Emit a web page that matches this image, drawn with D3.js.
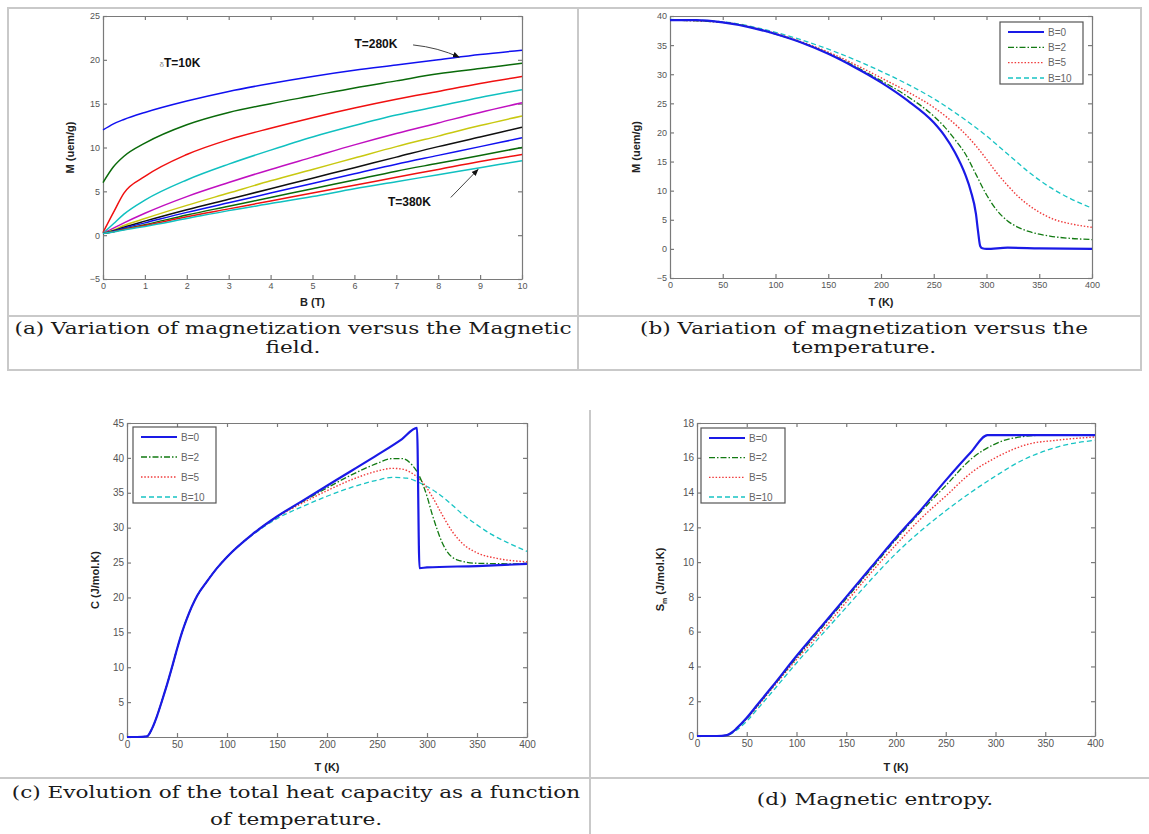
<!DOCTYPE html>
<html>
<head>
<meta charset="utf-8">
<script src="https://cdn.jsdelivr.net/npm/d3@7"></script>
<style>
  body { margin: 0; background: #fff; }
  text { font-family: "Liberation Sans", Arial, sans-serif; }
</style>
</head>
<body>
<script>
// ---------- data ----------
// (a) magnetization vs field, one curve per temperature (280K .. 380K)
const fieldB = [0, 0.25, 0.5, 1, 2, 3, 4, 5, 6, 7, 8, 9, 10];
const m280 = [12.0, 12.7, 13.2, 14.0, 15.3, 16.4, 17.3, 18.1, 18.8, 19.4, 20.0, 20.6, 21.1];
const m290 = [6.0, 7.8, 9.0, 10.5, 12.6, 14.0, 15.0, 15.9, 16.8, 17.6, 18.4, 19.0, 19.6];
const m300 = [0.3, 2.6, 4.8, 6.7, 9.2, 10.9, 12.2, 13.4, 14.5, 15.5, 16.4, 17.3, 18.1];
const m310 = [0.2, 1.3, 2.4, 4.0, 6.3, 8.1, 9.7, 11.2, 12.5, 13.7, 14.7, 15.7, 16.6];
const m320 = [0.2, 0.8, 1.4, 2.5, 4.4, 6.0, 7.5, 8.9, 10.3, 11.6, 12.8, 14.0, 15.1];
const m330 = [0.2, 0.6, 1.1, 1.9, 3.4, 4.8, 6.2, 7.5, 8.8, 10.1, 11.3, 12.5, 13.6];
const m340 = [0.2, 0.5, 0.9, 1.6, 2.9, 4.1, 5.3, 6.5, 7.7, 8.9, 10.1, 11.2, 12.3];
const m350 = [0.2, 0.45, 0.8, 1.4, 2.6, 3.7, 4.8, 5.9, 7.0, 8.1, 9.1, 10.1, 11.1];
const m360 = [0.2, 0.4, 0.7, 1.2, 2.3, 3.3, 4.3, 5.3, 6.3, 7.3, 8.2, 9.1, 10.0];
const m370 = [0.2, 0.4, 0.65, 1.1, 2.1, 3.0, 3.9, 4.8, 5.7, 6.6, 7.5, 8.4, 9.2];
const m380 = [0.2, 0.35, 0.6, 1.0, 1.9, 2.8, 3.6, 4.4, 5.3, 6.1, 6.9, 7.7, 8.5];
const curvesA = [m280, m290, m300, m310, m320, m330, m340, m350, m360, m370, m380];
const colorsA = ["#1010f0", "#0a6a0a", "#f01010", "#10c0c0", "#c010c0", "#c8c810", "#101010",
                 "#1010f0", "#0a6a0a", "#f01010", "#10c0c0"];

// (b) magnetization vs temperature, [T, M]
const mT_B0 = [[0,39.3],[25,39.3],[50,38.9],[75,38.1],[100,36.9],[125,35.4],[150,33.5],[175,31.2],
  [200,28.6],[225,25.5],[250,21.7],[260,19.5],[270,16.6],[280,12.7],[285,10.0],[290,6.0],[292,3.0],
  [294,0.5],[296,0.1],[300,0.0],[320,0.2],[350,0.1],[400,0.0]];
const mT_B2 = [[0,39.3],[50,38.9],[100,36.9],[150,33.6],[200,28.9],[225,26.2],[250,22.8],[260,21.0],
  [270,18.8],[280,16.3],[290,12.8],[300,9.3],[310,6.6],[320,4.8],[330,3.7],[340,3.0],[360,2.2],
  [380,1.8],[400,1.6]];
const mT_B5 = [[0,39.3],[50,38.9],[100,37.0],[150,33.8],[200,29.4],[225,27.0],[250,24.3],[275,20.6],
  [290,17.7],[300,15.4],[310,13.0],[320,10.9],[330,9.0],[340,7.5],[350,6.3],[365,5.0],[380,4.3],[400,3.7]];
const mT_B10 = [[0,39.4],[50,39.0],[100,37.2],[150,34.3],[200,30.5],[225,28.3],[250,25.8],[275,22.8],
  [300,19.4],[320,16.3],[340,13.2],[360,10.6],[380,8.6],[400,7.0]];

// (c) total heat capacity, [T, C]
const cT_B0 = [[0,0],[10,0],[20,0.1],[25,1.2],[30,3.0],[35,5.2],[40,7.5],[45,10.0],[50,12.6],[55,15.0],
  [60,17.0],[70,20.2],[80,22.3],[90,24.2],[100,25.8],[125,29.0],[150,31.6],[175,33.8],[200,36.0],
  [225,38.2],[250,40.4],[275,42.7],[290,44.3],[292.5,24.2],[300,24.3],[350,24.5],[400,24.8]];
const cT_B2 = [[0,0],[10,0],[20,0.1],[25,1.2],[30,3.0],[35,5.2],[40,7.5],[45,10.0],[50,12.6],[55,15.0],
  [60,17.0],[70,20.2],[80,22.3],[90,24.2],[100,25.8],[125,29.0],[150,31.6],[175,33.7],[200,35.7],
  [225,37.6],[250,39.2],[265,39.9],[275,39.9],[285,39.0],[292,37.5],[300,34.5],[305,32.0],[310,29.8],
  [315,27.9],[320,26.6],[330,25.4],[350,24.9],[400,24.8]];
const cT_B5 = [[0,0],[10,0],[20,0.1],[25,1.2],[30,3.0],[35,5.2],[40,7.5],[45,10.0],[50,12.6],[55,15.0],
  [60,17.0],[70,20.2],[80,22.3],[90,24.2],[100,25.8],[125,29.0],[150,31.5],[175,33.5],[200,35.3],
  [225,36.9],[250,38.1],[265,38.5],[275,38.4],[285,37.8],[295,36.6],[305,34.5],[315,31.9],[325,29.5],
  [335,27.8],[350,26.4],[370,25.6],[400,25.1]];
const cT_B10 = [[0,0],[10,0],[20,0.1],[25,1.2],[30,3.0],[35,5.2],[40,7.5],[45,10.0],[50,12.6],[55,15.0],
  [60,17.0],[70,20.2],[80,22.3],[90,24.2],[100,25.8],[125,28.9],[150,31.3],[175,33.0],[200,34.5],
  [225,35.8],[250,36.8],[265,37.2],[280,37.1],[290,36.6],[300,35.9],[310,35.0],[320,33.9],[335,32.0],
  [350,30.4],[365,29.0],[380,27.9],[400,26.6]];

// (d) magnetic entropy, [T, S]
const sT_B0 = [[0,0],[20,0],[30,0.05],[35,0.2],[40,0.45],[50,1.05],[60,1.75],[75,2.8],[100,4.6],
  [125,6.3],[150,8.0],[175,9.7],[200,11.4],[225,13.0],[250,14.7],[275,16.3],[292,17.3],[300,17.3],[400,17.3]];
const sT_B2 = [[0,0],[20,0],[30,0.05],[35,0.2],[40,0.45],[50,1.0],[60,1.7],[75,2.75],[100,4.5],
  [125,6.2],[150,7.9],[175,9.6],[200,11.3],[225,12.9],[250,14.4],[277,16.0],[300,16.8],[315,17.1],
  [350,17.3],[400,17.3]];
const sT_B5 = [[0,0],[20,0],[30,0.05],[35,0.2],[40,0.45],[50,1.0],[60,1.65],[75,2.7],[100,4.4],
  [125,6.0],[150,7.7],[175,9.4],[200,11.0],[225,12.5],[250,13.8],[277,15.2],[300,16.0],[334,16.8],
  [360,17.0],[400,17.2]];
const sT_B10 = [[0,0],[20,0],[30,0.05],[35,0.15],[40,0.35],[50,0.85],[60,1.5],[75,2.5],[100,4.2],
  [125,5.8],[150,7.4],[175,9.0],[200,10.5],[225,11.8],[250,12.95],[275,14.0],[300,14.95],[325,15.8],
  [350,16.4],[375,16.8],[400,17.0]];

const legendLabels = ["B=0", "B=2", "B=5", "B=10"];
const tickA_x = d3.range(0, 11, 1), tickA_y = d3.range(-5, 26, 5);
const tickT = d3.range(0, 401, 50);
const tickB_y = d3.range(-5, 41, 5);
const tickC_y = d3.range(0, 46, 5);
const tickD_y = d3.range(0, 19, 2);

// line styles for the four field values
const styles = [
  { color: "#1a1ae6", dash: null, w: 2.2 },
  { color: "#127a12", dash: "6,2,1.5,2", w: 1.3 },
  { color: "#f03a3a", dash: "1.5,1.8", w: 1.4 },
  { color: "#18c4c4", dash: "5,3", w: 1.3 }
];

// ---------- drawing ----------
const svg = d3.select("body").append("svg")
  .attr("width", 1149)
  .attr("height", 834);

// frame lines like the table in the paper
const frame = "#c9c9c9";
svg.append("rect").attr("x", 8).attr("y", 8).attr("width", 1133).attr("height", 362)
  .attr("fill", "none").attr("stroke", frame).attr("stroke-width", 2);
svg.append("line").attr("x1", 578).attr("x2", 578).attr("y1", 8).attr("y2", 370)
  .attr("stroke", frame).attr("stroke-width", 2);
svg.append("line").attr("x1", 8).attr("x2", 1141).attr("y1", 316).attr("y2", 316)
  .attr("stroke", frame).attr("stroke-width", 2);
svg.append("line").attr("x1", 0).attr("x2", 1149).attr("y1", 778).attr("y2", 778)
  .attr("stroke", frame).attr("stroke-width", 2);
svg.append("line").attr("x1", 590).attr("x2", 590).attr("y1", 410).attr("y2", 834)
  .attr("stroke", frame).attr("stroke-width", 2);

function panel(cfg) {
  const x = d3.scaleLinear().domain(cfg.xDomain).range([cfg.left, cfg.left + cfg.width]);
  const y = d3.scaleLinear().domain(cfg.yDomain).range([cfg.top + cfg.height, cfg.top]);
  const g = svg.append("g");

  // box with inward ticks on all four sides
  g.append("g").attr("transform", `translate(0,${cfg.top + cfg.height})`)
    .call(d3.axisBottom(x).tickValues(cfg.xTicks).tickSizeInner(-4).tickSizeOuter(0).tickPadding(4));
  g.append("g").attr("transform", `translate(${cfg.left},0)`)
    .call(d3.axisLeft(y).tickValues(cfg.yTicks).tickSizeInner(-4).tickSizeOuter(0).tickPadding(3));
  g.append("g").attr("transform", `translate(0,${cfg.top})`)
    .call(d3.axisTop(x).tickValues(cfg.xTicks).tickSizeInner(-4).tickSizeOuter(0).tickFormat(""));
  g.append("g").attr("transform", `translate(${cfg.left + cfg.width},0)`)
    .call(d3.axisRight(y).tickValues(cfg.yTicks).tickSizeInner(-4).tickSizeOuter(0).tickFormat(""));
  g.selectAll(".domain, .tick line").attr("stroke", "#7a7a7a").attr("stroke-width", 1.2);
  g.selectAll(".tick text").attr("fill", "#555").style("font-size", cfg.tickSize + "px");

  // axis titles
  g.append("text").attr("x", cfg.left + cfg.width / 2).attr("y", cfg.xTitleY)
    .attr("text-anchor", "middle").style("font-size", "11px").style("font-weight", "bold")
    .attr("fill", "#222").text(cfg.xTitle);
  const yt = g.append("text")
    .attr("transform", `translate(${cfg.yTitleX},${cfg.top + cfg.height / 2}) rotate(-90)`)
    .attr("text-anchor", "middle").style("font-size", "11px").style("font-weight", "bold")
    .attr("fill", "#222");
  if (cfg.yTitleSub) {
    yt.append("tspan").text(cfg.yTitle);
    yt.append("tspan").attr("dy", 3).style("font-size", "7px").text(cfg.yTitleSub);
    yt.append("tspan").attr("dy", -3).text(cfg.yTitleRest);
  } else {
    yt.text(cfg.yTitle);
  }
  return { x, y, g };
}

function drawSeries(p, series) {
  const line = d3.line().x(d => p.x(d[0])).y(d => p.y(d[1])).curve(d3.curveMonotoneX);
  // draw in reverse so the solid B=0 line sits on top
  series.slice().reverse().forEach((s, ri) => {
    const st = styles[series.length - 1 - ri];
    p.g.append("path").datum(s).attr("d", line)
      .attr("fill", "none").attr("stroke", st.color).attr("stroke-width", st.w)
      .attr("stroke-dasharray", st.dash);
  });
}

function legend(p, lx, ly, w, h) {
  const lg = p.g.append("g");
  lg.append("rect").attr("x", lx).attr("y", ly).attr("width", w).attr("height", h)
    .attr("fill", "#fff").attr("stroke", "#555").attr("stroke-width", 1.2);
  legendLabels.forEach((lab, i) => {
    const yy = ly + 10 + i * (h - 16) / 3;
    const st = styles[i];
    lg.append("line").attr("x1", lx + 8).attr("x2", lx + 44).attr("y1", yy).attr("y2", yy)
      .attr("stroke", st.color).attr("stroke-width", st.w).attr("stroke-dasharray", st.dash);
    lg.append("text").attr("x", lx + 48).attr("y", yy + 3.5).style("font-size", "10px")
      .attr("fill", "#666").text(lab);
  });
}

// (a)
const pa = panel({ left: 103, top: 16, width: 419, height: 263, xDomain: [0, 10], yDomain: [-5, 25],
  xTicks: tickA_x, yTicks: tickA_y, tickSize: 9, xTitle: "B (T)", xTitleY: 306,
  yTitle: "M (uem/g)", yTitleX: 74 });
const lineA = d3.line().x((d, i) => pa.x(fieldB[i])).y(d => pa.y(d)).curve(d3.curveMonotoneX);
curvesA.forEach((c, i) => {
  pa.g.append("path").datum(c).attr("d", lineA).attr("fill", "none")
    .attr("stroke", colorsA[i]).attr("stroke-width", 1.5);
});
svg.append("defs").append("marker").attr("id", "head").attr("viewBox", "0 0 10 10")
  .attr("refX", 9).attr("refY", 5).attr("markerWidth", 7).attr("markerHeight", 7)
  .attr("orient", "auto").append("path").attr("d", "M0,1 L10,5 L0,9 Z").attr("fill", "#111");
const annA = pa.g.append("g").style("font-size", "12px").style("font-weight", "bold").attr("fill", "#111");
annA.append("text").attr("x", pa.x(6.0)).attr("y", pa.y(21.4)).text("T=280K");
annA.append("text").attr("x", pa.x(6.8)).attr("y", pa.y(3.3)).text("T=380K");
const t10 = annA.append("text").attr("x", pa.x(1.35)).attr("y", pa.y(19.2));
t10.append("tspan").style("font-size", "8px").style("font-weight", "normal").attr("fill", "#888").text("δ");
t10.append("tspan").text("T=10K");
pa.g.append("path").attr("d", `M${pa.x(7.4)},${pa.y(21.7)} Q${pa.x(8.0)},${pa.y(21.4)} ${pa.x(8.5)},${pa.y(20.3)}`)
  .attr("fill", "none").attr("stroke", "#444").attr("stroke-width", 1).attr("marker-end", "url(#head)");
pa.g.append("path").attr("d", `M${pa.x(8.3)},${pa.y(4.3)} L${pa.x(8.95)},${pa.y(7.5)}`)
  .attr("fill", "none").attr("stroke", "#444").attr("stroke-width", 1).attr("marker-end", "url(#head)");

// (b)
const pb = panel({ left: 670, top: 16, width: 422, height: 262, xDomain: [0, 400], yDomain: [-5, 40],
  xTicks: tickT, yTicks: tickB_y, tickSize: 9, xTitle: "T (K)", xTitleY: 306,
  yTitle: "M (uem/g)", yTitleX: 640 });
drawSeries(pb, [mT_B0, mT_B2, mT_B5, mT_B10]);
legend(pb, 1000, 22, 83, 62);

// (c)
const pc = panel({ left: 127, top: 423, width: 400, height: 314, xDomain: [0, 400], yDomain: [0, 45],
  xTicks: tickT, yTicks: tickC_y, tickSize: 10, xTitle: "T (K)", xTitleY: 771,
  yTitle: "C (J/mol.K)", yTitleX: 99 });
drawSeries(pc, [cT_B0, cT_B2, cT_B5, cT_B10]);
legend(pc, 133, 427, 83, 76);

// (d)
const pd = panel({ left: 697, top: 423, width: 398, height: 313, xDomain: [0, 400], yDomain: [0, 18],
  xTicks: tickT, yTicks: tickD_y, tickSize: 10, xTitle: "T (K)", xTitleY: 771,
  yTitle: "S", yTitleSub: "m", yTitleRest: " (J/mol.K)", yTitleX: 664 });
drawSeries(pd, [sT_B0, sT_B2, sT_B5, sT_B10]);
legend(pd, 701, 428, 84, 75);

// ---------- captions ----------
const captions = [
  { cx: 293, y: 334, lines: ["(a) Variation of magnetization versus the Magnetic", "field."] },
  { cx: 864, y: 334, lines: ["(b) Variation of magnetization versus the", "temperature."] },
  { cx: 296, y: 798, lines: ["(c) Evolution of the total heat capacity as a function", "of temperature."] },
  { cx: 875, y: 805, lines: ["(d) Magnetic entropy."] }
];
// serif text at 16px, widened a little so the first line fills its cell like in the paper
const probe = svg.append("text").style("font-family", "DejaVu Serif").style("font-size", "16px")
  .text(captions[0].lines[0]);
const stretch = 557 / probe.node().getComputedTextLength();
probe.remove();
captions.forEach(c => {
  c.lines.forEach((l, i) => {
    const t = svg.append("text").attr("x", c.cx).attr("y", c.y + i * (c.y > 500 ? 27 : 19))
      .attr("text-anchor", "middle").style("font-family", "DejaVu Serif")
      .style("font-size", "16px").attr("fill", "#1a1a1a").text(l);
    const natural = t.node().getComputedTextLength();
    t.attr("textLength", natural * stretch).attr("lengthAdjust", "spacingAndGlyphs");
  });
});
</script>
</body>
</html>
